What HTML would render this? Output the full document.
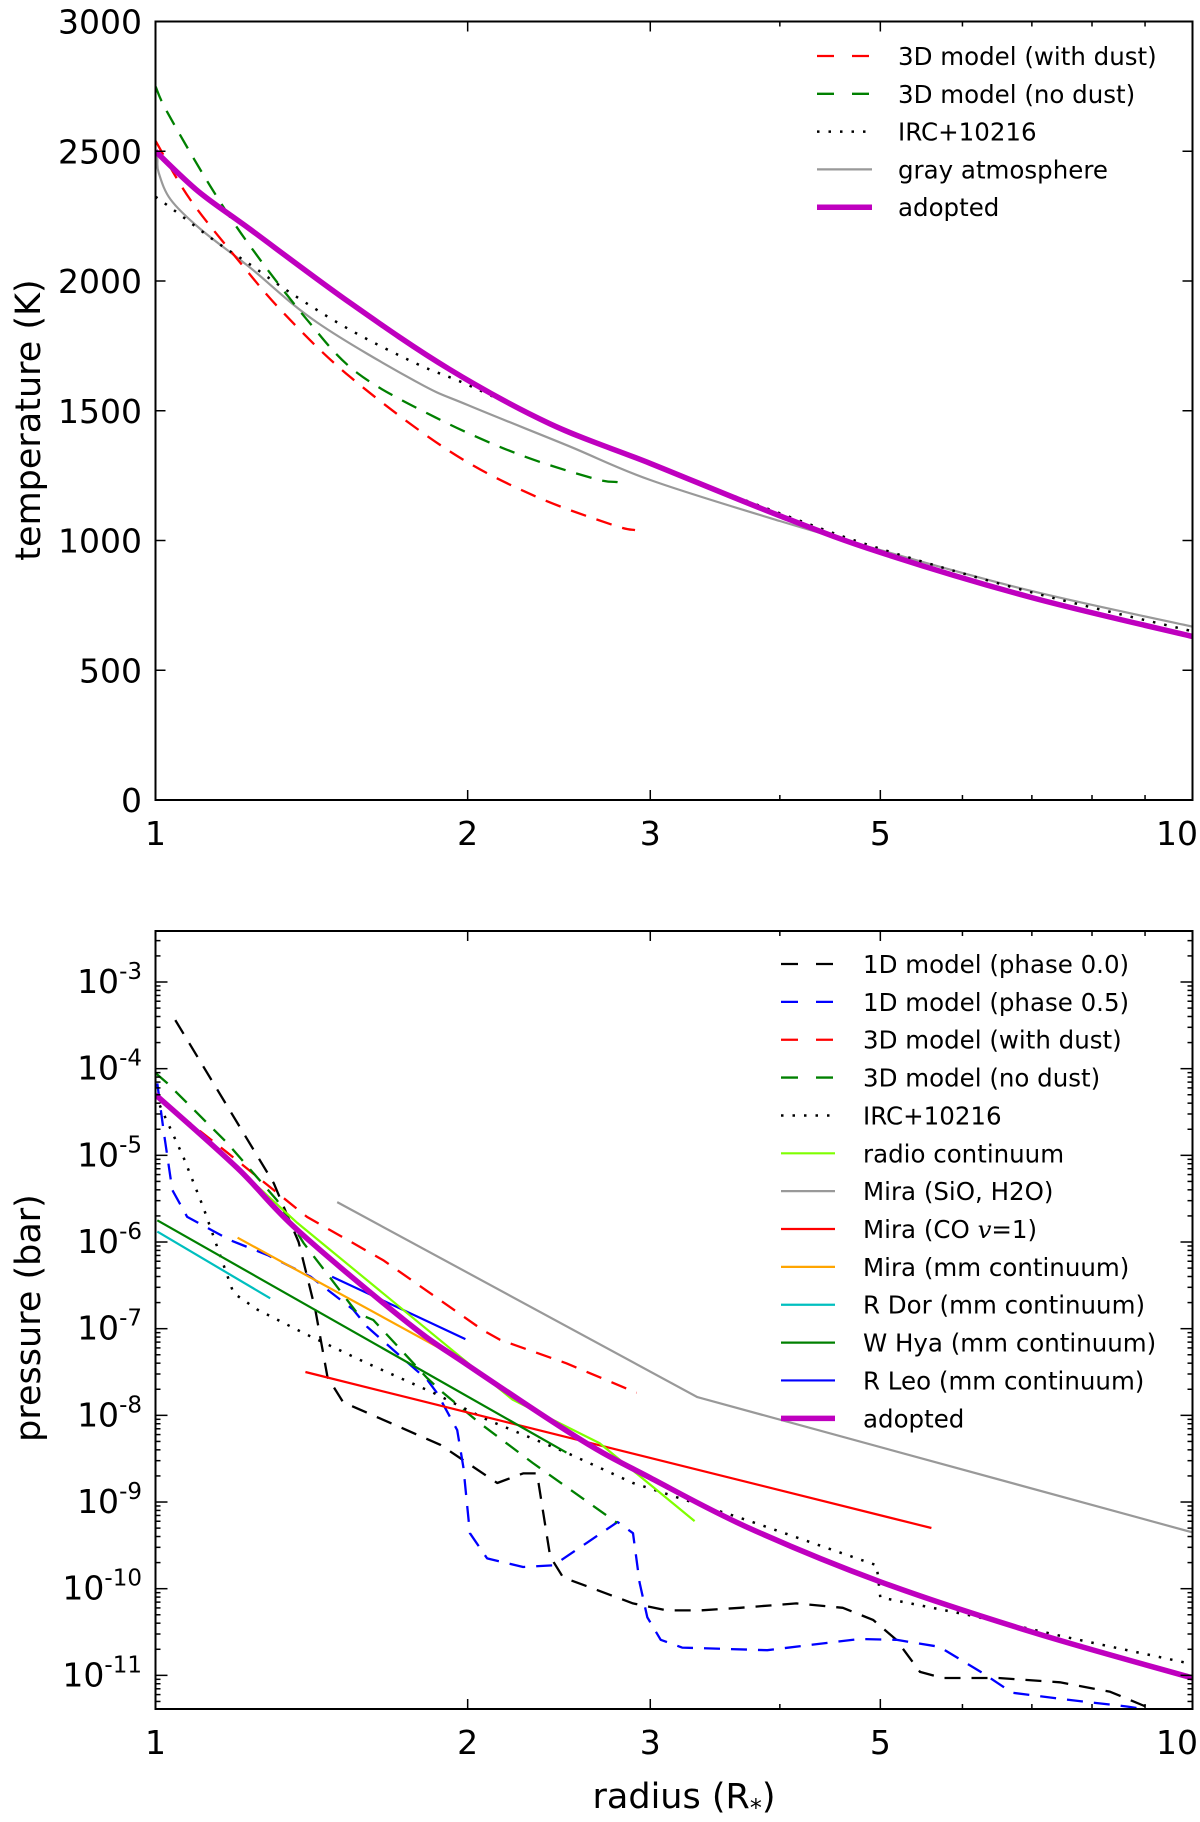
<!DOCTYPE html>
<html><head><meta charset="utf-8">
<style>
html,body{margin:0;padding:0;background:#fff;}
svg{display:block;font-family:"DejaVu Sans","Liberation Sans",sans-serif;}
</style></head>
<body>
<svg id="fig" width="1200" height="1822" viewBox="0 0 1200 1822" xmlns="http://www.w3.org/2000/svg">
<rect width="1200" height="1822" fill="#fff"/>
<g id="topPanel"></g>
<g id="botPanel"></g>
<text x="0" y="0" font-size="35" text-anchor="middle" transform="translate(40,420) rotate(-90)">temperature (K)</text>
<text x="0" y="0" font-size="35" text-anchor="middle" transform="translate(40,1318) rotate(-90)">pressure (bar)</text>
<text x="684" y="1808" font-size="35" text-anchor="middle">radius (R<tspan font-size="24" dy="8">*</tspan><tspan dy="-8">)</tspan></text>
</svg>
<script>
// ---------- top panel data (temperature, K) ----------
const tDustR = [1, 1.08, 1.207, 1.328, 1.54, 1.92, 2.31, 2.76, 2.9];
const tDustT = [2540, 2314, 2071, 1878, 1631, 1345, 1175, 1060, 1040];
const tNoDustR = [1, 1.027, 1.13, 1.235, 1.4, 1.565, 1.86, 2.23, 2.64, 2.79];
const tNoDustT = [2750, 2649, 2364, 2132, 1851, 1646, 1475, 1335, 1240, 1225];
const tIrcR = [1, 1.04, 1.147, 1.226, 1.349, 1.54, 1.788, 2, 2.5, 3, 4, 5, 7, 10];
const tIrcT = [2325, 2275, 2148, 2071, 1955, 1812, 1680, 1600, 1420, 1295, 1105, 968, 800, 650];
const tGrayR = [1, 1.004, 1.007, 1.034, 1.105, 1.235, 1.432, 1.788, 2, 2.5, 3, 4, 5, 7, 10];
const tGrayT = [2500, 2470, 2418, 2314, 2200, 2050, 1840, 1610, 1522, 1365, 1233, 1075, 963, 805, 668];
const tAdoptR = [1, 1.1, 1.235, 1.54, 1.92, 2.4, 3, 4, 5, 7, 10];
const tAdoptT = [2500, 2345, 2198, 1916, 1660, 1450, 1297, 1095, 954, 780, 630];
const tYTicks = [0, 500, 1000, 1500, 2000, 2500, 3000];
const xTickLabels = [1, 2, 3, 5, 10];
const xMinor = [4, 6, 7, 8, 9];

// ---------- bottom panel data (log10 pressure, bar) ----------
const p1d0R = [1.045, 1.30, 1.374, 1.426, 1.465, 1.517, 1.882, 2.136, 2.262, 2.333, 2.402, 2.472, 2.887, 3.113, 3.35, 3.662, 4.15, 4.6, 4.92, 5.18, 5.46, 5.74, 6.5, 7.45, 8.33, 9.1, 9.5];
const p1d0P = [-3.44, -5.32, -6.0, -6.78, -7.56, -7.85, -8.34, -8.78, -8.67, -8.67, -9.63, -9.87, -10.17, -10.25, -10.25, -10.22, -10.17, -10.22, -10.36, -10.59, -10.96, -11.03, -11.03, -11.08, -11.19, -11.38, -11.45];
const p1d5R = [1.004, 1.018, 1.038, 1.073, 1.181, 1.282, 1.411, 1.551, 1.6, 1.828, 1.868, 1.954, 1.981, 2.01, 2.088, 2.262, 2.42, 2.606, 2.79, 2.887, 2.93, 2.98, 3.07, 3.22, 3.89, 4.77, 5.18, 5.7, 6.27, 6.7, 7.56, 8.66, 9.3];
const p1d5P = [-4.17, -4.71, -5.40, -5.71, -5.98, -6.15, -6.40, -6.78, -6.98, -7.59, -7.74, -8.17, -8.60, -9.36, -9.65, -9.75, -9.73, -9.47, -9.23, -9.36, -9.93, -10.33, -10.59, -10.68, -10.71, -10.58, -10.59, -10.67, -10.97, -11.2, -11.28, -11.36, -11.42];
const p3dDustR = [1.004, 1.173, 1.4, 1.658, 2.07, 2.15, 2.49, 2.91];
const p3dDustP = [-4.33, -4.97, -5.71, -6.21, -7.02, -7.13, -7.40, -7.74];
const p3dNoR = [1.0, 1.027, 1.173, 1.31, 1.389, 1.565, 1.622, 1.828, 1.894, 2.055, 2.311, 2.786];
const p3dNoP = [-4.05, -4.17, -4.86, -5.52, -6.01, -6.82, -6.90, -7.57, -7.74, -8.09, -8.55, -9.24];
const pIrcR = [1.0, 1.011, 1.064, 1.112, 1.147, 1.189, 1.254, 1.358, 1.389, 1.6, 1.853, 2.088, 2.49, 2.887, 3.72, 4.96, 5.0, 6.06, 7.56, 10];
const pIrcP = [-4.3, -4.44, -5.02, -5.60, -6.06, -6.59, -6.78, -6.99, -7.05, -7.40, -7.74, -8.05, -8.43, -8.78, -9.21, -9.73, -10.1, -10.30, -10.56, -10.87];
const pRadioR = [1.034, 1.37, 2.21, 2.68, 3.31];
const pRadioP = [-4.44, -5.78, -7.82, -8.32, -9.22];
const pMiraSioR = [1.497, 3.33, 10];
const pMiraSioP = [-5.54, -7.79, -9.35];
const pMiraCoR = [1.395, 5.6];
const pMiraCoP = [-7.50, -9.30];
const pMiraMmR = [1.2, 1.95];
const pMiraMmP = [-5.95, -7.33];
const pRDorR = [1.004, 1.29];
const pRDorP = [-5.88, -6.65];
const pWHyaR = [1.004, 2.49];
const pWHyaP = [-5.75, -8.43];
const pRLeoR = [1.48, 1.99];
const pRLeoP = [-6.40, -7.12];
const pAdoptR = [1, 1.2, 1.37, 1.75, 2, 2.57, 3, 3.72, 5, 7, 10];
const pAdoptP = [-4.30, -5.15, -5.86, -6.93, -7.42, -8.28, -8.72, -9.29, -9.92, -10.5, -11.03];
const pYTickExp = [-3, -4, -5, -6, -7, -8, -9, -10, -11];

// ---------- geometry ----------
const L = 155.5, R = 1192.5;
const T1 = 21.5, B1 = 800, T2 = 931, B2 = 1709;
const NS = 'http://www.w3.org/2000/svg';
function xs(r){ return L + Math.log10(r) * (R - L); }
function yT(t){ return B1 - t / 3000 * (B1 - T1); }
function yP(lp){ return 982 + (-3 - lp) * 86.67; }

function el(tag, attrs, parent){
  const e = document.createElementNS(NS, tag);
  for (const k in attrs) e.setAttribute(k, attrs[k]);
  parent.appendChild(e);
  return e;
}
const topG = document.getElementById('topPanel');
const botG = document.getElementById('botPanel');

function smoothPath(P){
  let d = 'M' + P[0][0].toFixed(1) + ',' + P[0][1].toFixed(1);
  for (let i = 0; i < P.length - 1; i++) {
    const p0 = P[Math.max(0, i - 1)], p1 = P[i], p2 = P[i + 1], p3 = P[Math.min(P.length - 1, i + 2)];
    const c1x = p1[0] + (p2[0] - p0[0]) / 6, c1y = p1[1] + (p2[1] - p0[1]) / 6;
    const c2x = p2[0] - (p3[0] - p1[0]) / 6, c2y = p2[1] - (p3[1] - p1[1]) / 6;
    d += ' C' + c1x.toFixed(1) + ',' + c1y.toFixed(1) + ' ' + c2x.toFixed(1) + ',' + c2y.toFixed(1) + ' ' + p2[0].toFixed(1) + ',' + p2[1].toFixed(1);
  }
  return d;
}

function series(parent, rs, vs, yf, color, width, dash, name, smooth){
  const P = rs.map((r, i) => [xs(r), yf(vs[i])]);
  let p;
  if (smooth) {
    p = el('path', {d: smoothPath(P), fill: 'none', stroke: color, 'stroke-width': width, 'stroke-linejoin': 'round'}, parent);
  } else {
    p = el('polyline', {points: P.map(q => q[0].toFixed(1) + ',' + q[1].toFixed(1)).join(' '), fill: 'none', stroke: color, 'stroke-width': width, 'stroke-linejoin': 'round'}, parent);
  }
  if (dash) p.setAttribute('stroke-dasharray', dash);
  
  
  return p;
}

const DASH = '16,11', DOT = '2.5,9';

const defs = el('defs', {}, document.getElementById('fig'));
const c1 = el('clipPath', {id: 'c1'}, defs); el('rect', {x: L, y: T1, width: R - L, height: B1 - T1}, c1);
const c2 = el('clipPath', {id: 'c2'}, defs); el('rect', {x: L, y: T2, width: R - L, height: B2 - T2}, c2);
const g1 = el('g', {'clip-path': 'url(#c1)'}, topG);
const g2 = el('g', {'clip-path': 'url(#c2)'}, botG);

series(g1, tGrayR, tGrayT, yT, '#999999', 2.2, null, 'gray-atmosphere-line', true);
series(g1, tIrcR, tIrcT, yT, '#000', 2.5, DOT, 'irc10216-line', true);
series(g1, tDustR, tDustT, yT, '#ff0000', 2.3, DASH, '3d-with-dust-line', true);
series(g1, tNoDustR, tNoDustT, yT, '#008000', 2.3, DASH, '3d-no-dust-line', true);
series(g1, tAdoptR, tAdoptT, yT, '#bf00bf', 5.5, null, 'adopted-line', true);

series(g2, p1d0R, p1d0P, yP, '#000', 2.3, DASH, '1d-phase0-line', false);
series(g2, p1d5R, p1d5P, yP, '#0000ff', 2.3, DASH, '1d-phase05-line', false);
series(g2, p3dDustR, p3dDustP, yP, '#ff0000', 2.3, DASH, '3d-with-dust-line', false);
series(g2, p3dNoR, p3dNoP, yP, '#008000', 2.3, DASH, '3d-no-dust-line', false);
series(g2, pIrcR, pIrcP, yP, '#000', 2.5, DOT, 'irc10216-line', false);
series(g2, pMiraSioR, pMiraSioP, yP, '#999999', 2.2, null, 'mira-sio-h2o-line', false);
series(g2, pMiraCoR, pMiraCoP, yP, '#ff0000', 2.2, null, 'mira-co-line', false);
series(g2, pMiraMmR, pMiraMmP, yP, '#ffa500', 2.2, null, 'mira-mm-line', false);
series(g2, pRDorR, pRDorP, yP, '#00bfbf', 2.2, null, 'r-dor-line', false);
series(g2, pWHyaR, pWHyaP, yP, '#008000', 2.2, null, 'w-hya-line', false);
series(g2, pRLeoR, pRLeoP, yP, '#0000ff', 2.2, null, 'r-leo-line', false);
series(g2, pRadioR, pRadioP, yP, '#7fff00', 2.2, null, 'radio-continuum-line', false);
series(g2, pAdoptR, pAdoptP, yP, '#bf00bf', 5.5, null, 'adopted-line', true);

function frame(parent, T, B, name){
  const f = el('rect', {x: L, y: T, width: R - L, height: B - T, fill: 'none', stroke: '#000', 'stroke-width': 2}, parent);
  
  
}
frame(topG, T1, B1, 'temperature-axes-frame');
frame(botG, T2, B2, 'pressure-axes-frame');

function tick(parent, x1, y1, x2, y2){ el('line', {x1: x1, y1: y1, x2: x2, y2: y2, stroke: '#000', 'stroke-width': 1.5}, parent); }

[[topG, T1, B1, 'top'], [botG, T2, B2, 'bottom']].forEach(([p, T, B, nm]) => {
  xTickLabels.forEach(v => {
    const x = xs(v);
    tick(p, x, B, x, B - 10); tick(p, x, T, x, T + 10);
    const last = v === 10;
    const t = el('text', {x: last ? 1198 : x, y: B + 45, 'font-size': 33, 'text-anchor': last ? 'end' : 'middle'}, p);
    t.textContent = v;
    
    
  });
  xMinor.forEach(v => { const x = xs(v); tick(p, x, B, x, B - 5); tick(p, x, T, x, T + 5); });
});

tYTicks.forEach(v => {
  const y = yT(v);
  tick(topG, L, y, L + 10, y); tick(topG, R, y, R - 10, y);
  const t = el('text', {x: 142, y: y + 12, 'font-size': 33, 'text-anchor': 'end'}, topG);
  t.textContent = v;
  
  
});

for (let e = -12; e <= -2; e++) {
  for (let m = 1; m <= 9; m++) {
    const lp = e + Math.log10(m);
    const y = yP(lp);
    if (y < T2 + 1 || y > B2 - 1) continue;
    const len = m === 1 ? 12 : 5;
    tick(botG, L, y, L + len, y); tick(botG, R, y, R - len, y);
  }
}
pYTickExp.forEach(e => {
  const y = yP(e);
  const t = el('text', {x: 142, y: y + 11, 'font-size': 33, 'text-anchor': 'end'}, botG);
  
  
  t.appendChild(document.createTextNode('10'));
  const s = el('tspan', {'font-size': 23, dy: -14}, t);
  s.textContent = String(e);
});

function legend(parent, items, x1, x2, tx, y0, dy, nm){
  items.forEach((it, i) => {
    const yb = y0 + i * dy, yl = yb - 9;
    const g = el('g', {}, parent);
    
    
    const ln = el('line', {x1: x1, y1: yl, x2: x2, y2: yl, stroke: it[1], 'stroke-width': it[2]}, g);
    if (it[3]) ln.setAttribute('stroke-dasharray', it[3]);
    const t = el('text', {x: tx, y: yb, 'font-size': 24.5}, g);
    if (it[0].indexOf('|v|') >= 0) {
      const parts = it[0].split('|v|');
      t.appendChild(document.createTextNode(parts[0]));
      const v = el('tspan', {'font-style': 'italic', 'font-family': '"DejaVu Serif","Liberation Serif",serif'}, t);
      v.textContent = 'v';
      t.appendChild(document.createTextNode(parts[1]));
    } else t.textContent = it[0];
  });
}
legend(topG, [
  ['3D model (with dust)', '#ff0000', 2.3, '17,18'],
  ['3D model (no dust)', '#008000', 2.3, '17,18'],
  ['IRC+10216', '#000', 2.5, '2.5,9'],
  ['gray atmosphere', '#999999', 2.2, null],
  ['adopted', '#bf00bf', 5.5, null]
], 817, 872, 898, 65, 37.8, 'top-legend');
legend(botG, [
  ['1D model (phase 0.0)', '#000', 2.3, '17,18'],
  ['1D model (phase 0.5)', '#0000ff', 2.3, '17,18'],
  ['3D model (with dust)', '#ff0000', 2.3, '17,18'],
  ['3D model (no dust)', '#008000', 2.3, '17,18'],
  ['IRC+10216', '#000', 2.5, '2.5,9'],
  ['radio continuum', '#7fff00', 2.2, null],
  ['Mira (SiO, H2O)', '#999999', 2.2, null],
  ['Mira (CO |v|=1)', '#ff0000', 2.2, null],
  ['Mira (mm continuum)', '#ffa500', 2.2, null],
  ['R Dor (mm continuum)', '#00bfbf', 2.2, null],
  ['W Hya (mm continuum)', '#008000', 2.2, null],
  ['R Leo (mm continuum)', '#0000ff', 2.2, null],
  ['adopted', '#bf00bf', 5.5, null]
], 781, 835, 863, 973, 37.86, 'bottom-legend');
</script>
</body></html>
